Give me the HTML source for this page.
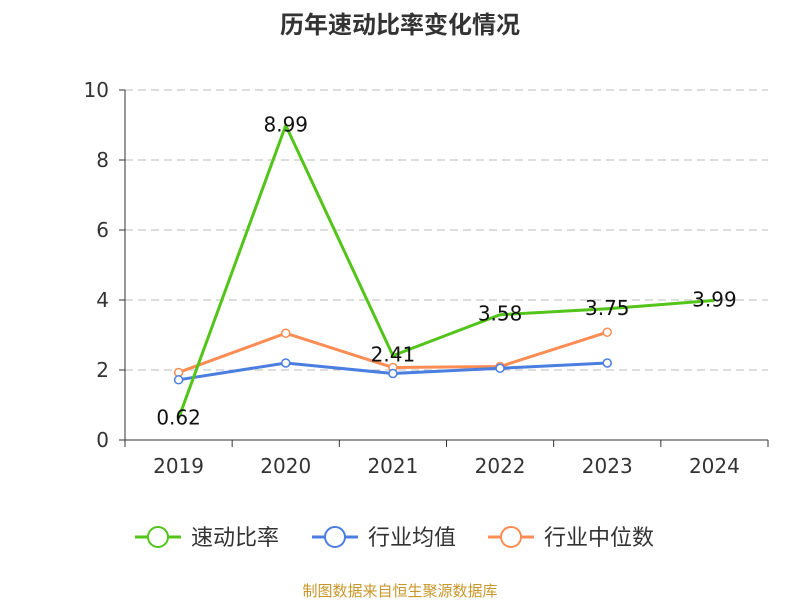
<!DOCTYPE html>
<html><head><meta charset="utf-8"><style>
body{margin:0;background:#fff;}
svg text{font-family:"DejaVu Sans","Liberation Sans","Noto Sans CJK SC",sans-serif;}
</style></head><body>
<svg width="800" height="600" id="c" xmlns="http://www.w3.org/2000/svg">
<text x="400" y="33" text-anchor="middle" font-size="24" font-weight="bold" fill="#333">历年速动比率变化情况</text>
<g id="grid"></g><g id="axes"></g><g id="series"></g><g id="legend"></g>
<text x="400" y="596" text-anchor="middle" font-size="15" fill="#c8962a">制图数据来自恒生聚源数据库</text>
</svg>
<script>
const categories=["2019","2020","2021","2022","2023","2024"];
const quickRatio=[0.62,8.99,2.41,3.58,3.75,3.99];
const industryAvg=[1.72,2.2,1.9,2.05,2.2,null];
const industryMedian=[1.93,3.05,2.07,2.1,3.08,null];
const yTicks=[0,2,4,6,8,10];
const NS="http://www.w3.org/2000/svg";
const L=125,R=768,T=90,B=440,yMax=10;
const bw=(R-L)/categories.length;
const xS=i=>L+bw*(i+0.5);
const yS=v=>B-(v/yMax)*(B-T);
function mk(p,tag,a){const e=document.createElementNS(NS,tag);for(const k in a)e.setAttribute(k,a[k]);p.appendChild(e);return e;}
const g=document.getElementById('grid'),ax=document.getElementById('axes'),se=document.getElementById('series'),lg=document.getElementById('legend');
yTicks.forEach(t=>{
 if(t>0){const l=mk(g,'line',{x1:L,x2:R,y1:yS(t),y2:yS(t),stroke:'#bbb','stroke-dasharray':'8,5'});
 
 }
 const tk=mk(ax,'line',{x1:L-6,x2:L,y1:yS(t),y2:yS(t),stroke:'#333'});
 
 
 const tx=mk(ax,'text',{x:L-16,y:yS(t)+7,'text-anchor':'end','font-size':20,fill:'#333'});tx.textContent=t;
 
 
});
const ya=mk(ax,'line',{x1:L,x2:L,y1:T,y2:B,stroke:'#333'});


const xa=mk(ax,'line',{x1:L,x2:R,y1:B,y2:B,stroke:'#333'});


for(let i=0;i<=categories.length;i++){const t=mk(ax,'line',{x1:L+bw*i,x2:L+bw*i,y1:B,y2:B+7,stroke:'#333'});
 
 }
categories.forEach((c,i)=>{const t=mk(ax,'text',{x:xS(i),y:B+33,'text-anchor':'middle','font-size':20,fill:'#333'});t.textContent=c;
 
 });
function series(data,color,name,labels){
 const pts=data.map((v,i)=>v==null?null:[xS(i),yS(v)]).filter(p=>p);
 const pl=mk(se,'polyline',{points:pts.map(p=>p.join(',')).join(' '),fill:'none',stroke:color,'stroke-width':3});
 
 
 data.forEach((v,i)=>{if(v==null)return;
  if(!labels){const c=mk(se,'circle',{cx:xS(i),cy:yS(v),r:4,fill:'#fff',stroke:color,'stroke-width':1.5});
  
  }
  else{const t=mk(se,'text',{x:xS(i),y:yS(v)+6,'text-anchor':'middle','font-size':20,fill:'#111'});t.textContent=v.toFixed(2);
  
  }
 });
}
series(industryMedian,'#fb8c54','industry-median',false);
series(industryAvg,'#4a7ee0','industry-average',false);
series(quickRatio,'#52c41a','quick-ratio',true);
const leg=[['速动比率','#52c41a',135],['行业均值','#4a7ee0',312],['行业中位数','#fb8c54',488]];
leg.forEach(([n,c,x])=>{
 const gg=mk(lg,'g',{});
 
 
 mk(gg,'line',{x1:x,x2:x+46,y1:537,y2:537,stroke:c,'stroke-width':3});
 mk(gg,'circle',{cx:x+23,cy:537,r:10,fill:'#fff',stroke:c,'stroke-width':2});
 const t=mk(gg,'text',{x:x+56,y:545,'font-size':22,fill:'#333'});t.textContent=n;
});
</script>
</body></html>
